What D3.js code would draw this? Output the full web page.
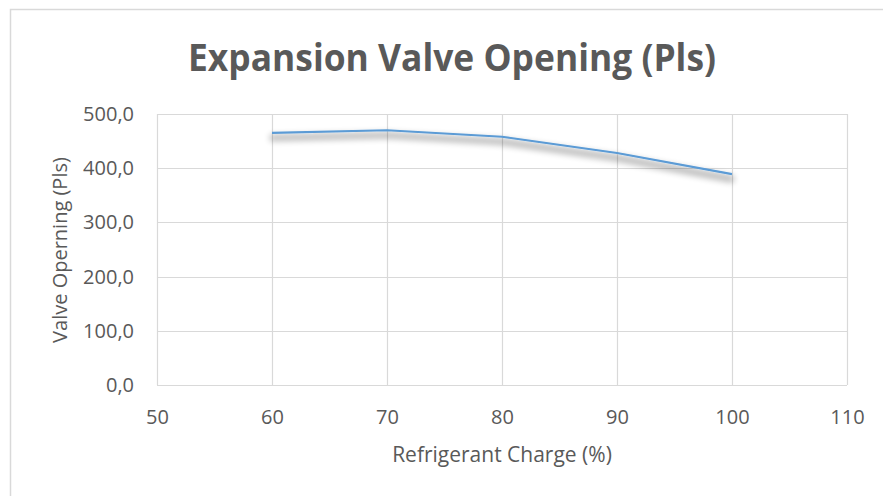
<!DOCTYPE html>
<html>
<head>
<meta charset="utf-8">
<script src="https://d3js.org/d3.v7.min.js"></script>
<style>
  body { margin: 0; background: #fff; }
  text { font-family: "Open Sans", "Liberation Sans", sans-serif; }
</style>
</head>
<body>
<div id="chart"></div>
<script>
// Data
const charge = [60, 70, 80, 90, 100];
const opening = [465, 470, 458, 428, 389];
const xTicks = [50, 60, 70, 80, 90, 100, 110];
const yTicks = [0, 100, 200, 300, 400, 500];

const W = 883, H = 496;
const plot = { left: 157, right: 847, top: 114, bottom: 385 };

const svg = d3.select("#chart").append("svg")
  .attr("width", W)
  .attr("height", H);

// outer chart frame
svg.append("rect")
  .attr("x", 10.5).attr("y", 9.5)
  .attr("width", 880).attr("height", 500)
  .attr("fill", "#fff")
  .attr("stroke", "#d9d9d9")
  .attr("stroke-width", 1.5);

// soft drop shadow under the line
const defs = svg.append("defs");
const f = defs.append("filter").attr("id", "shadow")
  .attr("x", "-10%").attr("y", "-80%").attr("width", "120%").attr("height", "260%");
f.append("feMorphology").attr("in", "SourceAlpha").attr("operator", "dilate").attr("radius", 2).attr("result", "fat");
f.append("feOffset").attr("in", "fat").attr("dx", 0).attr("dy", 5).attr("result", "off");
f.append("feGaussianBlur").attr("in", "off").attr("stdDeviation", 3).attr("result", "blur");
f.append("feComponentTransfer").attr("in", "blur").attr("result", "sh")
  .append("feFuncA").attr("type", "linear").attr("slope", 0.28);
const merge = f.append("feMerge");
merge.append("feMergeNode").attr("in", "sh");
merge.append("feMergeNode").attr("in", "SourceGraphic");

const x = d3.scaleLinear().domain([50, 110]).range([plot.left, plot.right]);
const y = d3.scaleLinear().domain([0, 500]).range([plot.bottom, plot.top]);

// gridlines
svg.append("g").selectAll("line")
  .data(yTicks).enter().append("line")
  .attr("x1", plot.left).attr("x2", plot.right)
  .attr("y1", d => Math.round(y(d)) + 0.5).attr("y2", d => Math.round(y(d)) + 0.5)
  .attr("stroke", "#d9d9d9").attr("stroke-width", 1.2);

svg.append("g").selectAll("line")
  .data(xTicks).enter().append("line")
  .attr("x1", d => Math.round(x(d)) + 0.5).attr("x2", d => Math.round(x(d)) + 0.5)
  .attr("y1", plot.top).attr("y2", plot.bottom)
  .attr("stroke", "#d9d9d9").attr("stroke-width", 1.2);

// axes (labels only)
const fmt = d => d.toFixed(1).replace(".", ",");
svg.append("g")
  .attr("transform", `translate(${plot.left},0)`)
  .call(d3.axisLeft(y).tickValues(yTicks).tickFormat(fmt).tickSize(0).tickPadding(23))
  .call(g => g.select(".domain").remove())
  .call(g => g.selectAll("text")
    .attr("font-size", 20).attr("fill", "#595959")
    .style("font-family", "'Open Sans', sans-serif"));

svg.append("g")
  .attr("transform", `translate(0,${plot.bottom})`)
  .call(d3.axisBottom(x).tickValues(xTicks).tickSize(0).tickPadding(25))
  .call(g => g.select(".domain").remove())
  .call(g => g.selectAll("text")
    .attr("font-size", 20).attr("fill", "#595959")
    .style("font-family", "'Open Sans', sans-serif"));

// line
const line = d3.line()
  .x((d, i) => x(charge[i]))
  .y(d => y(d));

svg.append("path")
  .datum(opening)
  .attr("d", line)
  .attr("fill", "none")
  .attr("stroke", "#5b9bd5")
  .attr("stroke-width", 2.2)
  .attr("stroke-linejoin", "round")
  .attr("filter", "url(#shadow)");

// title
svg.append("text")
  .attr("x", 452).attr("y", 71)
  .attr("text-anchor", "middle")
  .attr("font-size", 37)
  .attr("font-weight", "bold")
  .attr("fill", "#595959")
  .attr("textLength", 528)
  .attr("lengthAdjust", "spacingAndGlyphs")
  .text("Expansion Valve Opening (Pls)");

// axis titles
svg.append("text")
  .attr("x", 502).attr("y", 462)
  .attr("text-anchor", "middle")
  .attr("font-size", 21)
  .attr("fill", "#595959")
  .text("Refrigerant Charge (%)");

svg.append("text")
  .attr("transform", "translate(67,250) rotate(-90)")
  .attr("text-anchor", "middle")
  .attr("font-size", 20)
  .attr("fill", "#595959")
  .text("Valve Operning (Pls)");
</script>
</body>
</html>
